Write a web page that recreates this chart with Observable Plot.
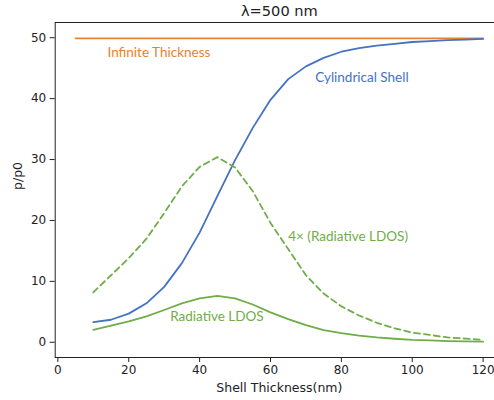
<!DOCTYPE html>
<html>
<head>
<meta charset="utf-8">
<script src="https://cdn.jsdelivr.net/npm/d3@7"></script>
<script src="https://cdn.jsdelivr.net/npm/@observablehq/plot@0.6"></script>
<style>
  html, body { margin: 0; padding: 0; background: #fff; }
  svg { overflow: hidden; }
</style>
</head>
<body>
<div id="chart"></div>
<script>
const thickness = [10,15,20,25,30,35,40,45,50,55,60,65,70,75,80,85,90,95,100,105,110,115,120];
const cylindrical = [3.3,3.7,4.7,6.4,9.1,13.0,18.0,24.0,29.9,35.2,39.8,43.2,45.3,46.7,47.7,48.3,48.7,49.0,49.3,49.45,49.6,49.7,49.8];
const ldos4x = [8.2,11.0,13.8,17.0,21.2,25.6,28.8,30.4,28.7,24.8,19.6,15.3,11.0,8.0,5.9,4.4,3.2,2.3,1.6,1.2,0.8,0.6,0.4];
const ldos = [2.05,2.75,3.45,4.25,5.3,6.4,7.2,7.6,7.2,6.2,4.9,3.8,2.8,2.0,1.5,1.1,0.8,0.58,0.4,0.3,0.2,0.15,0.1];
const infiniteX = [5, 120];
const infiniteY = [49.9, 49.9];
const xTicks = [0,20,40,60,80,100,120];
const yTicks = [0,10,20,30,40,50];
const title = "λ=500 nm";
const xLabel = "Shell Thickness(nm)";
const yLabel = "p/p0";
const annotations = [
  {text: "Infinite Thickness", x: 14, y: 47.6, color: "#E8822E"},
  {text: "Cylindrical Shell", x: 72.6, y: 43.5, color: "#4472C4"},
  {text: "4× (Radiative LDOS)", x: 65, y: 17.3, color: "#70AD47"},
  {text: "Radiative LDOS", x: 31.7, y: 4.2, color: "#70AD47"}
];

const C = {orange: "#E8822E", blue: "#4472C4", green: "#70AD47"};
const rows = (ys) => thickness.map((t, i) => ({x: t, y: ys[i]}));
const inf = infiniteX.map((x, i) => ({x, y: infiniteY[i]}));
const tickFont = "DejaVu Sans";

const chart = Plot.plot({
  width: 494,
  height: 400,
  marginLeft: 54.7,
  marginRight: -9,
  marginTop: 22,
  marginBottom: 43,
  style: {fontFamily: tickFont, fontSize: "12px", background: "#fff", color: "#222", overflow: "hidden"},
  x: {domain: [-0.75, 125.75]},
  y: {domain: [-2.5, 52.5]},
  marks: [
    Plot.line(inf, {x: "x", y: "y", stroke: C.orange, strokeWidth: 1.8}),
    Plot.line(rows(cylindrical), {x: "x", y: "y", stroke: C.blue, strokeWidth: 1.8}),
    Plot.line(rows(ldos4x), {x: "x", y: "y", stroke: C.green, strokeWidth: 1.8, strokeDasharray: "6,4"}),
    Plot.line(rows(ldos), {x: "x", y: "y", stroke: C.green, strokeWidth: 1.8}),
    Plot.text(annotations, {x: "x", y: "y", text: "text", fill: "color", textAnchor: "start",
      fontFamily: "Lato", fontSize: 13.5}),
    Plot.frame({stroke: "#222", strokeWidth: 1}),
    Plot.axisX({ticks: xTicks, tickSize: 5, tickPadding: 3, label: null, fontSize: 12, stroke: "#222"}),
    Plot.axisY({ticks: yTicks, tickSize: 5, tickPadding: 4, label: null, fontSize: 12, stroke: "#222"}),
    Plot.text([title], {frameAnchor: "top", lineAnchor: "middle", dy: -11, text: d => d, fontSize: 14.6, fill: "#222"}),
    Plot.text([xLabel], {frameAnchor: "bottom", lineAnchor: "middle", dy: 30, text: d => d, fontSize: 12.5, fill: "#222"}),
    Plot.text([yLabel], {frameAnchor: "left", lineAnchor: "middle", dx: -37, rotate: -90, text: d => d, fontSize: 12.5, fill: "#222"})
  ]
});
document.getElementById("chart").appendChild(chart);
</script>
</body>
</html>
